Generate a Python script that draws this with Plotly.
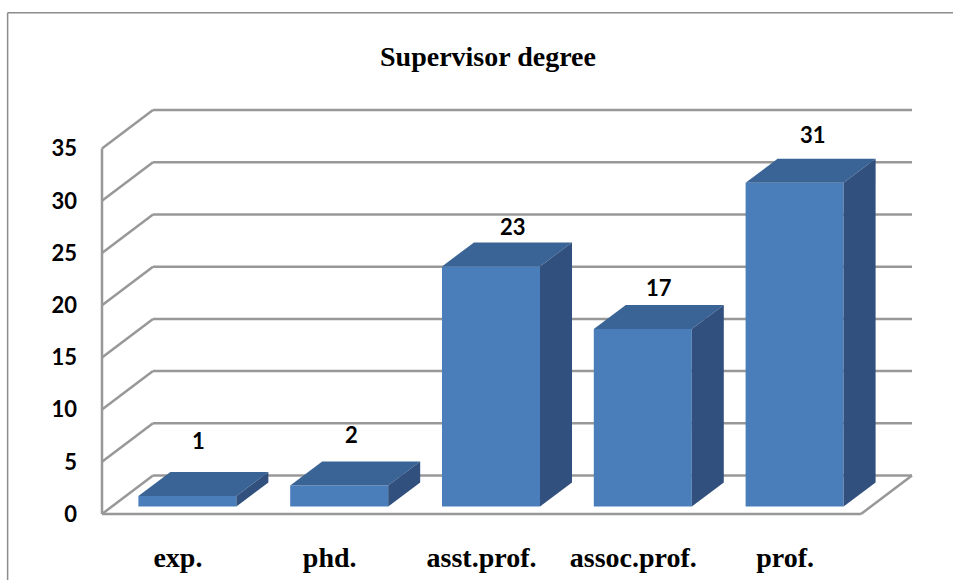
import plotly.graph_objects as go

categories = ['exp.', 'phd.', 'asst.prof.', 'assoc.prof.', 'prof.']
counts = [1, 2, 23, 17, 31]
y_ticks = [0, 5, 10, 15, 20, 25, 30, 35]

# pixel scale of the axes, used to size the fake 3d depth
PX_X = 151.8
PX_Y = 10.44
WALL_DX = 51 / PX_X
WALL_DY = 38.5 / PX_Y
BAR_DX = 32 / PX_X
BAR_DY = 24 / PX_Y
BAR_W = 98 / PX_X
BAR_SHIFT = 9.5 / PX_X
BAR_LIFT = 7.5 / PX_Y

FRONT = '#4A7EBB'
TOP = '#3B6496'
SIDE = '#31507E'
GRID = '#989898'

X_LEFT = -0.5
X_RIGHT = X_LEFT + 5

fig = go.Figure()

# front faces
bar_x = [i + BAR_SHIFT for i in range(len(categories))]
fig.add_trace(go.Bar(
    x=bar_x,
    y=counts,
    base=BAR_LIFT,
    width=BAR_W,
    marker=dict(color=FRONT, line=dict(width=0)),
    showlegend=False))

# top and side faces
for x, v in zip(bar_x, counts):
    left = x - BAR_W / 2
    right = x + BAR_W / 2
    top = v + BAR_LIFT
    fig.add_trace(go.Scatter(
        x=[left, right, right + BAR_DX, left + BAR_DX, left],
        y=[top, top, top + BAR_DY, top + BAR_DY, top],
        mode='lines', fill='toself', fillcolor=TOP,
        line=dict(width=0), showlegend=False, cliponaxis=False))
    fig.add_trace(go.Scatter(
        x=[right, right + BAR_DX, right + BAR_DX, right, right],
        y=[top, top + BAR_DY, BAR_LIFT + BAR_DY, BAR_LIFT, top],
        mode='lines', fill='toself', fillcolor=SIDE,
        line=dict(width=0), showlegend=False, cliponaxis=False))

# walls and floor, drawn under the bars
shapes = []


def wall_line(x0, y0, x1, y1):
    shapes.append(dict(type='line', xref='x', yref='y', layer='below',
                       x0=x0, y0=y0, x1=x1, y1=y1,
                       line=dict(color=GRID, width=2.5)))


for t in y_ticks:
    wall_line(X_LEFT, t, X_LEFT + WALL_DX, t + WALL_DY)
    wall_line(X_LEFT + WALL_DX, t + WALL_DY, X_RIGHT + WALL_DX, t + WALL_DY)
wall_line(X_LEFT, 0, X_LEFT, y_ticks[-1])
wall_line(X_LEFT, 0, X_RIGHT, 0)
wall_line(X_RIGHT, 0, X_RIGHT + WALL_DX, WALL_DY)

# outer chart border, left and top only because the picture is cropped
for x0, y0, x1, y1 in [(0.008, 0, 0.008, 0.978), (0.008, 0.978, 1, 0.978)]:
    shapes.append(dict(type='line', xref='paper', yref='paper',
                       x0=x0, y0=y0, x1=x1, y1=y1,
                       line=dict(color='#8C8C8C', width=1.5)))

# value labels sit at uneven distances from the bars in the original
label_dx = [11, 12, 22, 16, 18]
label_dy = [32, 27, 16, 18, 24]
annotations = []
for x, v, dx, dy in zip(bar_x, counts, label_dx, label_dy):
    annotations.append(dict(
        x=x, y=v + BAR_LIFT + BAR_DY, text=str(v), showarrow=False,
        xshift=dx, yshift=dy, yanchor='middle',
        font=dict(family='Lato', size=22, color='black', weight='bold')))

fig.update_layout(
    width=953, height=580,
    margin=dict(l=0, r=0, t=0, b=0, autoexpand=False, pad=0),
    paper_bgcolor='white', plot_bgcolor='white',
    shapes=shapes, annotations=annotations,
    showlegend=False,
    title=dict(text='Supervisor degree', x=488 / 953, xanchor='center',
               y=1 - 56 / 580, yanchor='middle',
               font=dict(family='Liberation Serif', size=28, color='black', weight='bold')),
    xaxis=dict(
        domain=[92 / 953, 925 / 953],
        range=[X_LEFT - 10 / PX_X, X_LEFT + 823 / PX_X],
        tickvals=list(range(len(categories))), ticktext=categories,
        showgrid=False, zeroline=False, showline=False, ticks='',
        anchor='y', ticklabelstandoff=14,
        tickfont=dict(family='Liberation Serif', size=28, color='black', weight='bold')),
    yaxis=dict(
        domain=[(580 - 524) / 580, (580 - 100) / 580],
        range=[-10 / PX_Y, 414 / PX_Y],
        tickvals=y_ticks,
        showgrid=False, zeroline=False, showline=False, ticks='',
        anchor='x', ticklabelstandoff=14,
        tickfont=dict(family='Lato', size=22, color='black', weight='bold')),
)

fig.write_html("out.html", config={'displayModeBar': False},
               post_script="document.body.style.margin = '0';")
